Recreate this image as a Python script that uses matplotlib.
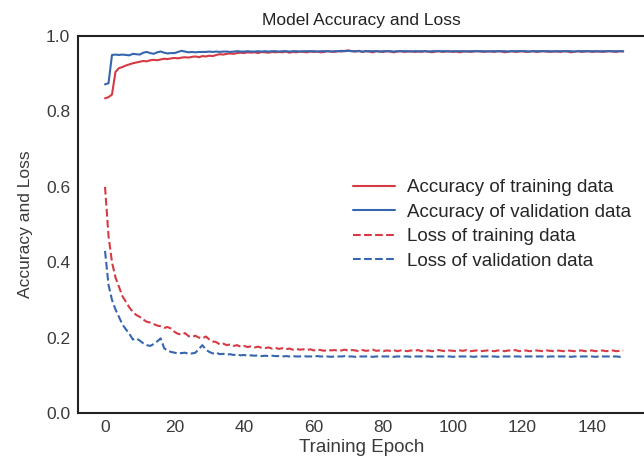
import matplotlib
matplotlib.use("Agg")
import matplotlib.pyplot as plt

plt.style.use("seaborn-v0_8-white")
plt.rcParams["font.family"] = ["Liberation Sans", "DejaVu Sans"]

# accuracy / loss history per epoch (150 epochs)
train_acc = [
    0.835, 0.838, 0.845, 0.905, 0.915, 0.918, 0.922, 0.925, 0.928, 0.930,
    0.932, 0.934, 0.933, 0.936, 0.937, 0.936, 0.938, 0.940, 0.939, 0.941,
    0.942, 0.941, 0.943, 0.944, 0.943, 0.945, 0.946, 0.944, 0.947, 0.946,
    0.948, 0.947, 0.950, 0.952, 0.951, 0.953, 0.954, 0.953, 0.955, 0.956,
    0.955, 0.957, 0.956, 0.957, 0.955, 0.958, 0.957, 0.956, 0.958, 0.957,
    0.958, 0.957, 0.959, 0.956, 0.958, 0.957, 0.959, 0.958, 0.957, 0.959,
    0.958, 0.959, 0.957, 0.958, 0.960, 0.959, 0.958, 0.960, 0.959, 0.961,
    0.962, 0.960, 0.959, 0.961, 0.958, 0.960, 0.959, 0.957, 0.960, 0.959,
    0.958, 0.960, 0.959, 0.957, 0.959, 0.960, 0.958, 0.959, 0.960, 0.958,
    0.959, 0.958, 0.960, 0.959, 0.957, 0.959, 0.960, 0.958, 0.959, 0.960,
    0.958, 0.959, 0.957, 0.959, 0.960, 0.958, 0.959, 0.960, 0.959, 0.958,
    0.960, 0.959, 0.958, 0.960, 0.959, 0.957, 0.959, 0.960, 0.958, 0.959,
    0.960, 0.958, 0.959, 0.960, 0.958, 0.959, 0.960, 0.959, 0.958, 0.960,
    0.959, 0.958, 0.960, 0.959, 0.957, 0.959, 0.960, 0.958, 0.959, 0.960,
    0.958, 0.959, 0.960, 0.958, 0.959, 0.960, 0.959, 0.958, 0.960, 0.959,
]
val_acc = [
    0.872, 0.875, 0.950, 0.951, 0.950, 0.951, 0.950, 0.949, 0.953, 0.952,
    0.951, 0.956, 0.958, 0.955, 0.953, 0.957, 0.959, 0.956, 0.954, 0.955,
    0.955, 0.958, 0.961, 0.959, 0.957, 0.958, 0.957, 0.958, 0.958, 0.958,
    0.959, 0.958, 0.959, 0.958, 0.959, 0.959, 0.958, 0.959, 0.960, 0.959,
    0.959, 0.960, 0.959, 0.959, 0.960, 0.959, 0.960, 0.959, 0.960, 0.960,
    0.959, 0.960, 0.960, 0.959, 0.960, 0.960, 0.959, 0.960, 0.960, 0.960,
    0.960, 0.959, 0.960, 0.960, 0.960, 0.959, 0.960, 0.960, 0.961, 0.960,
    0.961, 0.960, 0.960, 0.960, 0.959, 0.960, 0.960, 0.960, 0.960, 0.959,
    0.960, 0.960, 0.960, 0.959, 0.960, 0.960, 0.960, 0.960, 0.959, 0.960,
    0.960, 0.960, 0.960, 0.959, 0.960, 0.960, 0.960, 0.960, 0.960, 0.959,
    0.960, 0.960, 0.960, 0.960, 0.959, 0.960, 0.960, 0.960, 0.960, 0.960,
    0.959, 0.960, 0.960, 0.960, 0.960, 0.960, 0.959, 0.960, 0.960, 0.960,
    0.960, 0.960, 0.959, 0.960, 0.960, 0.960, 0.960, 0.960, 0.960, 0.959,
    0.960, 0.960, 0.960, 0.960, 0.960, 0.959, 0.960, 0.960, 0.960, 0.960,
    0.960, 0.960, 0.959, 0.960, 0.960, 0.960, 0.960, 0.960, 0.960, 0.960,
]
train_loss = [
    0.600, 0.470, 0.400, 0.360, 0.335, 0.310, 0.295, 0.280, 0.268, 0.260,
    0.255, 0.248, 0.242, 0.240, 0.236, 0.232, 0.230, 0.226, 0.228, 0.224,
    0.215, 0.210, 0.208, 0.212, 0.204, 0.202, 0.205, 0.200, 0.198, 0.203,
    0.195, 0.190, 0.188, 0.182, 0.184, 0.180, 0.182, 0.178, 0.180, 0.176,
    0.178, 0.175, 0.177, 0.174, 0.176, 0.173, 0.172, 0.174, 0.171, 0.173,
    0.170, 0.172, 0.169, 0.171, 0.168, 0.170, 0.168, 0.169, 0.167, 0.169,
    0.166, 0.168, 0.167, 0.165, 0.168, 0.166, 0.167, 0.165, 0.166, 0.168,
    0.165, 0.167, 0.166, 0.164, 0.167, 0.165, 0.166, 0.168, 0.165, 0.166,
    0.164, 0.166, 0.165, 0.167, 0.164, 0.166, 0.165, 0.164, 0.166, 0.165,
    0.167, 0.164, 0.165, 0.166, 0.164, 0.165, 0.167, 0.165, 0.164, 0.166,
    0.165, 0.164, 0.166, 0.165, 0.167, 0.164, 0.165, 0.166, 0.164, 0.165,
    0.166, 0.165, 0.164, 0.166, 0.165, 0.164, 0.166, 0.165, 0.167, 0.164,
    0.165, 0.166, 0.164, 0.165, 0.166, 0.165, 0.164, 0.166, 0.165, 0.164,
    0.166, 0.165, 0.164, 0.166, 0.165, 0.164, 0.165, 0.166, 0.164, 0.165,
    0.166, 0.164, 0.165, 0.166, 0.164, 0.165, 0.166, 0.164, 0.165, 0.166,
]
val_loss = [
    0.430, 0.340, 0.300, 0.275, 0.255, 0.235, 0.222, 0.210, 0.195, 0.198,
    0.192, 0.185, 0.180, 0.178, 0.183, 0.190, 0.198, 0.172, 0.165, 0.162,
    0.160, 0.158, 0.159, 0.160, 0.157, 0.158, 0.160, 0.170, 0.180, 0.168,
    0.162, 0.158, 0.160, 0.156, 0.157, 0.155, 0.156, 0.154, 0.155, 0.153,
    0.154, 0.152, 0.153, 0.152, 0.153, 0.151, 0.152, 0.151, 0.152, 0.151,
    0.151, 0.150, 0.151, 0.150, 0.151, 0.150, 0.150, 0.151, 0.150, 0.150,
    0.150, 0.151, 0.150, 0.150, 0.150, 0.149, 0.150, 0.150, 0.150, 0.151,
    0.150, 0.150, 0.149, 0.150, 0.150, 0.150, 0.150, 0.149, 0.150, 0.150,
    0.150, 0.150, 0.150, 0.149, 0.150, 0.150, 0.150, 0.150, 0.149, 0.150,
    0.150, 0.150, 0.150, 0.150, 0.149, 0.150, 0.150, 0.150, 0.150, 0.150,
    0.149, 0.150, 0.150, 0.150, 0.150, 0.150, 0.149, 0.150, 0.150, 0.150,
    0.150, 0.150, 0.150, 0.149, 0.150, 0.150, 0.150, 0.150, 0.150, 0.150,
    0.149, 0.150, 0.150, 0.150, 0.150, 0.150, 0.150, 0.149, 0.150, 0.150,
    0.150, 0.150, 0.150, 0.150, 0.149, 0.150, 0.150, 0.150, 0.150, 0.150,
    0.150, 0.149, 0.150, 0.150, 0.150, 0.150, 0.150, 0.150, 0.149, 0.150,
]
epochs = list(range(len(train_acc)))

red = "#d63a44"
blue = "#3566ae"
text_col = "#3a3a3a"

fig = plt.figure(figsize=(6.44, 4.63), dpi=100)
# right edge of the axes sits just past the figure border
ax = fig.add_axes([0.1207, 0.108, 0.881, 0.814])

ax.plot(epochs, train_acc, color=red, lw=1.5, label="Accuracy of training data")
ax.plot(epochs, val_acc, color=blue, lw=1.5, label="Accuracy of validation data")
ax.plot(epochs, train_loss, color=red, lw=1.5, ls="--", label="Loss of training data")
ax.plot(epochs, val_loss, color=blue, lw=1.5, ls="--", label="Loss of validation data")

ax.set_ylim(0, 1.0)
ax.set_xlim(-7.85, 155.3)
ax.set_xticks([0, 20, 40, 60, 80, 100, 120, 140])
ax.set_yticks([0.0, 0.2, 0.4, 0.6, 0.8, 1.0])
ax.tick_params(labelsize=12.5, colors=text_col, length=0)
ax.tick_params(axis="x", pad=4.7)
ax.tick_params(axis="y", pad=5.5)

ax.set_title("Model Accuracy and Loss", fontsize=12.5, color="#222222", pad=8)
ax.set_xlabel("Training Epoch", fontsize=13.5, color=text_col, labelpad=3)
ax.set_ylabel("Accuracy and Loss", fontsize=12.5, color=text_col, labelpad=9)

for sp in ax.spines.values():
    sp.set_color("#222222")
    sp.set_linewidth(1.5)

ax.legend(loc="center left", bbox_to_anchor=(353 / 644, 1 - 224.5 / 463),
          bbox_transform=fig.transFigure, frameon=False, borderpad=0,
          borderaxespad=0, fontsize=13.5, handlelength=2.25,
          handletextpad=0.62, labelspacing=0.4)

fig.savefig("out.png", dpi=100)
